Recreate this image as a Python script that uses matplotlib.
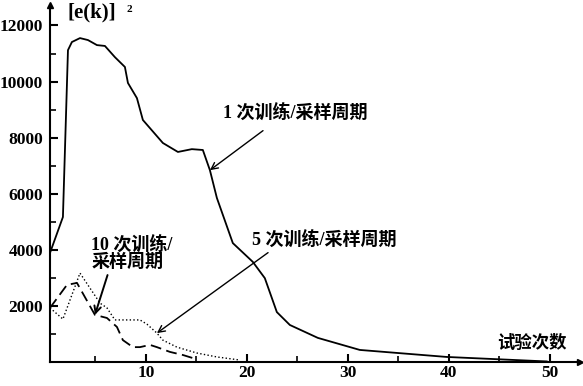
import matplotlib
matplotlib.use("Agg")
import matplotlib.pyplot as plt
from matplotlib.ticker import FixedLocator

# 1 次训练/采样周期
x1 = [0.5, 1.78, 2.28, 2.67, 3.47, 4.26, 5.15, 5.94, 6.93, 7.92, 8.22, 9.11, 9.70,
      11.68, 13.17, 14.55, 15.64, 16.34, 17.03, 18.61, 20.59, 21.78, 22.97, 24.26,
      27.03, 31.19, 39.80, 49.70]
y1 = [3890, 5170, 11120, 11410, 11550, 11480, 11300, 11270, 10870, 10520, 9950, 9410, 8630,
      7810, 7490, 7590, 7560, 6840, 5850, 4240, 3570, 2990, 1780, 1320,
      860, 430, 180, 20]

# 5 次训练/采样周期
x5 = [0.5, 1.78, 3.47, 5.45, 6.14, 6.93, 9.41, 10.10, 11.09, 11.68, 13.07, 15.05, 17.03, 19.31]
y5 = [1930, 1530, 3170, 2100, 1930, 1500, 1500, 1350, 1030, 780, 530, 320, 180, 70]

# 10 次训练/采样周期
x10 = [0.5, 2.18, 3.17, 4.95, 6.14, 7.13, 7.72, 8.71, 9.41, 10.40, 11.09, 12.38, 13.66, 14.65]
y10 = [1930, 2750, 2820, 1680, 1570, 1250, 780, 530, 530, 610, 530, 360, 250, 140]

num_font = ['Liberation Serif', 'Noto Sans CJK SC']

fig = plt.figure(figsize=(5.83, 3.86), dpi=100)
ax = fig.add_axes([50/583, 24/386, 530/583, 357/386])

ax.plot(x1, y1, color='k', lw=1.3)
ax.plot(x5, y5, color='k', lw=1.0, ls=':')
ax.plot(x10, y10, color='k', lw=1.3, dashes=(6, 3))

ax.set_xlim(0.5, 53.0)
ax.set_ylim(0, 12730)

for s in ['top', 'right']:
    ax.spines[s].set_visible(False)
for s in ['left', 'bottom']:
    ax.spines[s].set_linewidth(1.5)

ax.xaxis.set_major_locator(FixedLocator([10, 20, 30, 40, 50]))
ax.xaxis.set_minor_locator(FixedLocator([5, 15, 25, 35, 45]))
ax.yaxis.set_major_locator(FixedLocator([2000, 4000, 6000, 8000, 10000, 12000]))
ax.yaxis.set_minor_locator(FixedLocator([1000, 3000, 5000, 7000, 9000, 11000]))
ax.tick_params(which='major', direction='in', length=6, width=1.5)
ax.tick_params(which='minor', direction='in', length=4.5, width=1.2)
ax.tick_params(axis='x', which='major', pad=2.5)
ax.tick_params(axis='y', which='major', pad=5)
for lab in ax.get_xticklabels() + ax.get_yticklabels():
    lab.set_family(num_font)
    lab.set_fontweight('bold')
    lab.set_fontsize(12.5)

# axis arrows
ax.plot(1, 0, '>k', ms=5, transform=ax.get_yaxis_transform(), clip_on=False)
ax.plot(0.5, 1, '^k', ms=5, transform=ax.get_xaxis_transform(), clip_on=False)

ax.text(2.2, 12480, '[e(k)]', family=num_font, fontweight='bold', fontsize=15,
        va='center', ha='left')
ax.text(8.1, 12580, '2', family=num_font, fontweight='bold', fontsize=8,
        va='center', ha='left')
ax.text(44.8, 650, '试验次数', family=num_font, fontweight='bold', fontsize=12.5,
        va='center', ha='left')

cn = dict(family=num_font, fontweight='bold', fontsize=13, va='center', ha='left')
ax.text(17.6, 8880, '1 次训练/采样周期', **cn)
ax.text(20.5, 4350, '5 次训练/采样周期', **cn)
ax.text(4.6, 3880, '10 次训练/\n采样周期', linespacing=1.05, **cn)

arrow = dict(arrowstyle='->', color='k', lw=1.0, shrinkA=0, shrinkB=0,
             mutation_scale=12)
ax.annotate('', xy=(x1[17], y1[17]), xytext=(21.6, 8250), arrowprops=arrow)
ax.annotate('', xy=(x5[8], y5[8]), xytext=(22.1, 3900), arrowprops=arrow)
ax.annotate('', xy=(x10[3], y10[3]), xytext=(6.2, 3100),
            arrowprops=dict(arrow, lw=1.4))

fig.savefig('out.png', dpi=100)
